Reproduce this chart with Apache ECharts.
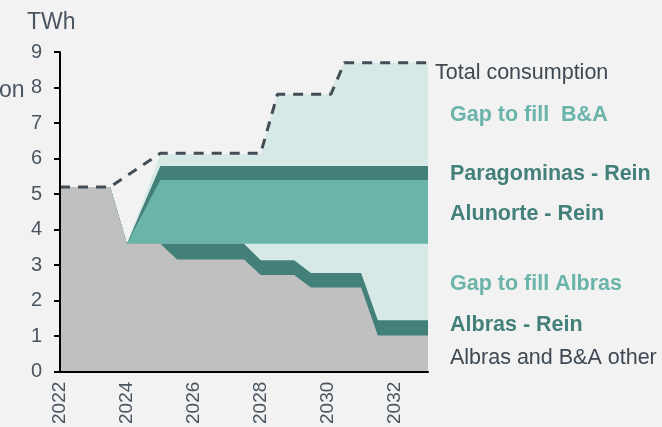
<!DOCTYPE html>
<html>
<head>
<meta charset="utf-8">
<title>TWh</title>
<script src="https://cdn.jsdelivr.net/npm/echarts@6.0.0/dist/echarts.min.js"></script>
<style>
  html, body { margin: 0; padding: 0; background: #f2f2f2; }
  #chart { width: 662px; height: 427px; }
</style>
</head>
<body>
<div id="chart"></div>
<script>
// break points of the stacked areas (years)
const years = [2022, 2023.5, 2024, 2025, 2025.5, 2027.5, 2028, 2028.5, 2029, 2029.5, 2030, 2030.5, 2031, 2031.5, 2033];
const otherBA = [5.2, 5.2, 3.6, 3.6, 3.16, 3.16, 2.72, 2.72, 2.72, 2.37, 2.37, 2.37, 2.37, 1.02, 1.02];
const albrasRein = [0, 0, 0, 0, 0.44, 0.44, 0.42, 0.42, 0.42, 0.41, 0.41, 0.41, 0.41, 0.43, 0.43];
const gapAlbras = [0, 0, 0, 0, 0, 0, 0.46, 0.46, 0.46, 0.82, 0.82, 0.82, 0.82, 2.15, 2.15];
const alunorteRein = [0, 0, 0, 1.8, 1.8, 1.8, 1.8, 1.8, 1.8, 1.8, 1.8, 1.8, 1.8, 1.8, 1.8];
const paragominasRein = [0, 0, 0, 0.39, 0.39, 0.39, 0.39, 0.39, 0.39, 0.39, 0.39, 0.39, 0.39, 0.39, 0.39];
const gapBA = [0, 0, 0, 0.33, 0.33, 0.33, 0.33, 2.02, 2.02, 2.02, 2.02, 2.91, 2.91, 2.91, 2.91];

// total consumption (dashed)
const totalYears = [2022, 2023.5, 2025, 2028, 2028.5, 2030.1, 2030.5, 2033];
const totalTWh = [5.2, 5.2, 6.15, 6.15, 7.81, 7.81, 8.7, 8.7];

const yTicks = [0, 1, 2, 3, 4, 5, 6, 7, 8, 9];
const xTicks = [2022, 2024, 2026, 2028, 2030, 2032];

const FONT = "'Liberation Sans', Arial, sans-serif";
const GREY = "#c0c0c0";
const DARK = "#44807a";
const MID = "#6bb4aa";
const LIGHT = "#d6e9e6";
const TEXT = "#4a5560";

// layers bottom -> top
const layers = [
  { name: "Albras and B&A other", data: otherBA, color: GREY },
  { name: "Albras - Rein", data: albrasRein, color: DARK },
  { name: "Gap to fill Albras", data: gapAlbras, color: LIGHT },
  { name: "Alunorte - Rein", data: alunorteRein, color: MID },
  { name: "Paragominas - Rein", data: paragominasRein, color: DARK },
  { name: "Gap to fill  B&A", data: gapBA, color: LIGHT },
];

// cumulative tops, drawn top layer first so the lower ones paint over it
let running = years.map(() => 0);
const areaSeries = layers.map((l) => {
  running = running.map((v, i) => v + l.data[i]);
  return {
    name: l.name,
    type: "line",
    data: years.map((y, i) => [y, +running[i].toFixed(3)]),
    symbol: "none",
    lineStyle: { width: 0 },
    areaStyle: { color: l.color, opacity: 1 },
    itemStyle: { color: l.color },
    silent: true,
    animation: false,
  };
}).reverse();

const labels = [
  { text: "Total consumption", x: 435, y: 73, color: "#3d4852", bold: false },
  { text: "Gap to fill  B&A", x: 450, y: 115, color: MID, bold: true },
  { text: "Paragominas - Rein", x: 450, y: 174, color: DARK, bold: true },
  { text: "Alunorte - Rein", x: 450, y: 214, color: DARK, bold: true },
  { text: "Gap to fill Albras", x: 450, y: 284, color: MID, bold: true },
  { text: "Albras - Rein", x: 450, y: 325, color: DARK, bold: true },
  { text: "Albras and B&A other", x: 450, y: 358, color: "#3d4852", bold: false },
];

const option = {
  backgroundColor: "#f2f2f2",
  animation: false,
  grid: { left: 60, right: 234, top: 52, bottom: 53 },
  xAxis: {
    type: "value",
    min: xTicks[0],
    max: 2033,
    interval: 2,
    z: 5,
    axisLine: { show: true, onZero: false, lineStyle: { color: "#000", width: 2 } },
    axisTick: { show: false },
    splitLine: { show: false },
    axisLabel: {
      rotate: 90,
      margin: 10,
      fontSize: 19,
      fontFamily: FONT,
      color: TEXT,
      showMaxLabel: false,
      formatter: (v) => (xTicks.includes(v) ? String(v) : ""),
    },
  },
  yAxis: {
    type: "value",
    min: yTicks[0],
    max: yTicks[yTicks.length - 1],
    interval: 1,
    z: 5,
    axisLine: { show: true, lineStyle: { color: "#000", width: 2 } },
    axisTick: { show: true, length: 6, lineStyle: { color: "#000", width: 2 } },
    splitLine: { show: false },
    axisLabel: { margin: 18, fontSize: 20, fontFamily: FONT, color: TEXT },
  },
  series: areaSeries.concat([
    {
      name: "Total consumption",
      type: "line",
      data: totalYears.map((y, i) => [y, totalTWh[i]]),
      symbol: "none",
      z: 4,
      lineStyle: { color: "#434d56", width: 3, type: [10, 8] },
      silent: true,
      animation: false,
    },
  ]),
  graphic: [
    {
      type: "text",
      left: 27,
      top: 11,
      style: { text: "TWh", font: "23px " + FONT, fill: TEXT },
    },
    {
      type: "text",
      x: -1,
      y: 91,
      style: { text: "on", font: "23px " + FONT, fill: TEXT, verticalAlign: "middle" },
    },
  ].concat(
    labels.map((l) => ({
      type: "text",
      x: l.x,
      y: l.y,
      style: {
        text: l.text,
        font: (l.bold ? "bold " : "") + "21.5px " + FONT,
        fill: l.color,
        verticalAlign: "middle",
      },
    }))
  ),
};

const myChart = echarts.init(document.getElementById("chart"));
myChart.setOption(option);
</script>
</body>
</html>
